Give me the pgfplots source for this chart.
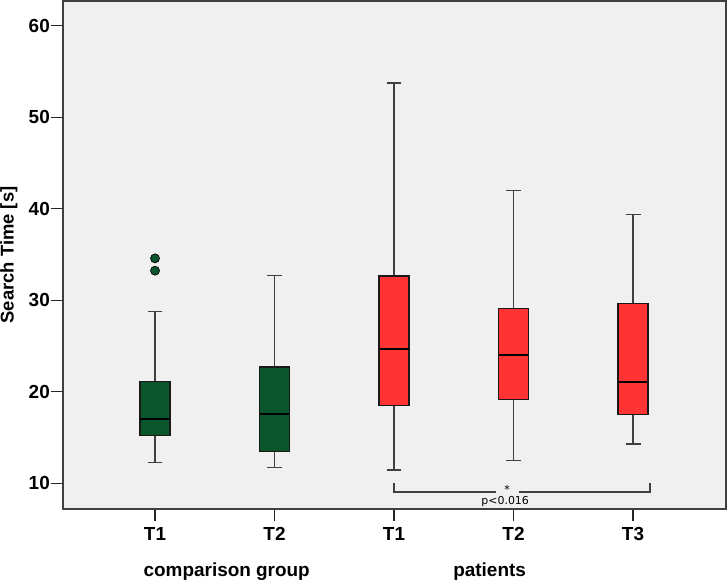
\documentclass[border=0pt]{standalone}
\usepackage{pgfplots}
\pgfplotsset{compat=1.18}
\usepgfplotslibrary{statistics}
\usepackage{fontspec}
\setmainfont{Liberation Sans}
\newfontfamily\dejavu{DejaVu Sans}
\definecolor{bggray}{HTML}{F0F0F0}
\definecolor{dgreen}{HTML}{0B552D}
\definecolor{bred}{HTML}{FF3333}
\begin{document}
\begin{tikzpicture}
\begin{axis}[name=ax, scale only axis, width=663bp, height=508bp,
  xmin=-0.77, xmax=4.778, ymin=7.19, ymax=62.70,
  clip=false,
  axis background/.style={fill=bggray},
  axis line style={line width=1.6bp, black!75},
  xtick={0,1,2,3,4}, xticklabels={T1,T2,T1,T2,T3},
  ytick={10,20,30,40,50,60},
  tick align=outside, major tick length=12bp,
  tick style={line width=1.4bp, black!85},
  tick pos=left,
  ticklabel style={font=\bfseries\fontsize{19}{21}\selectfont},
  /pgf/number format/assume math mode=true,
  yticklabel style={inner xsep=1bp},
  xticklabel style={yshift=-3bp},
  boxplot/draw direction=y,
  boxplot/box extend=0.25,
  boxplot/whisker extend=0.125,
  boxplot/every median/.style={line width=1.8bp, black},
  boxplot/every box/.style={line width=1.4bp, draw=black!90},
  boxplot/every whisker/.style={line width=1.3bp, draw=black!75},
]
% comparison group T1
\addplot[boxplot prepared={draw position=0, lower whisker=12.25, lower quartile=15.2,
  median=17.06, upper quartile=21.1, upper whisker=28.75},
  fill=dgreen, draw=black!85, line width=1.3bp,
  mark=*, mark size=4.5bp, mark options={fill=dgreen, draw=black, line width=0.7bp}]
  table[row sep=\\, y index=0] {data\\ 34.58\\ 33.23\\};
% comparison group T2
\addplot[boxplot prepared={draw position=1, lower whisker=11.75, lower quartile=13.45,
  median=17.54, upper quartile=22.71, upper whisker=32.73},
  fill=dgreen, draw=black!85, line width=1.3bp] coordinates {};
% patients T1
\addplot[boxplot prepared={draw position=2, lower whisker=11.45, lower quartile=18.48,
  median=24.67, upper quartile=32.65, upper whisker=53.74},
  fill=bred, draw=black!85, line width=1.3bp] coordinates {};
% patients T2
\addplot[boxplot prepared={draw position=3, lower whisker=12.51, lower quartile=19.18,
  median=23.99, upper quartile=29.12, upper whisker=42.02},
  fill=bred, draw=black!85, line width=1.3bp] coordinates {};
% patients T3
\addplot[boxplot prepared={draw position=4, lower whisker=14.29, lower quartile=17.54,
  median=21.04, upper quartile=29.67, upper whisker=39.35},
  fill=bred, draw=black!85, line width=1.3bp] coordinates {};

% significance bracket
\draw[black!75, line width=1.3bp] (axis cs:2,10) -- (axis cs:2,9.05) -- (axis cs:2.854,9.05);
\draw[black!75, line width=1.3bp] (axis cs:3.046,9.05) -- (axis cs:4.142,9.05) -- (axis cs:4.142,10);
\node[anchor=base, inner sep=0pt, font=\dejavu\fontsize{11}{12}\selectfont] at (axis cs:2.946,8.88) {*};
\node[anchor=base, inner sep=0pt, font=\dejavu\fontsize{11}{12}\selectfont] at (axis cs:2.93,7.64) {p<0.016};

% group labels
\node[anchor=base, inner sep=0pt, font=\bfseries\fontsize{19}{21}\selectfont] at ([yshift=-67bp]axis cs:0.6,7.19) {comparison group};
\node[anchor=base, inner sep=0pt, font=\bfseries\fontsize{19}{21}\selectfont] at ([yshift=-67bp]axis cs:2.8,7.19) {patients};

% y label
\node[rotate=90, anchor=north, inner sep=0pt, font=\bfseries\fontsize{18.5}{20}\selectfont] at ([xshift=-63bp]rel axis cs:0,0.5) {Search Time [s]};
\end{axis}
\path ([shift={(-63bp,-72bp)}]ax.south west) rectangle ([shift={(1bp,1bp)}]ax.north east);
\end{tikzpicture}
\end{document}
